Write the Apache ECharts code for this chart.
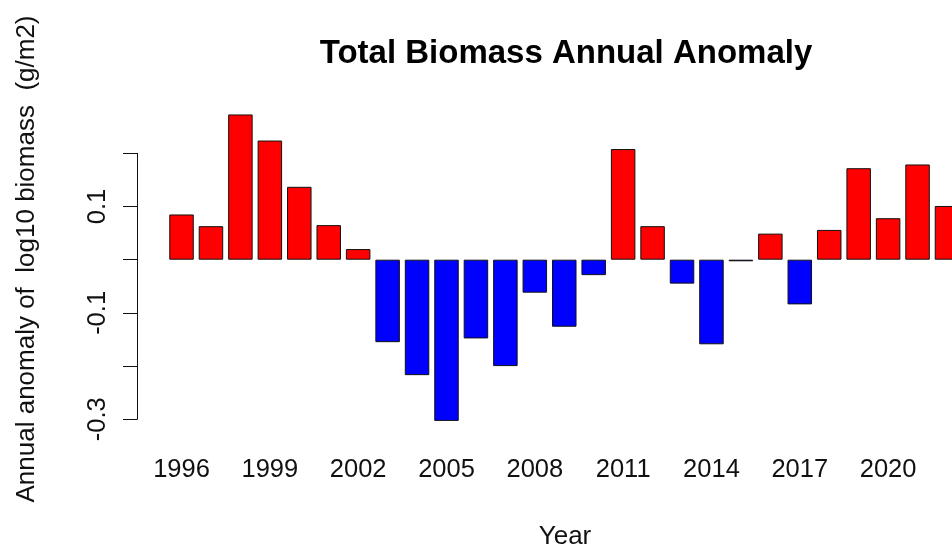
<!DOCTYPE html>
<html>
<head>
<meta charset="utf-8">
<script src="https://cdn.jsdelivr.net/npm/echarts@6/dist/echarts.min.js"></script>
<style>
html,body{margin:0;padding:0;background:#fff;}
#chart{width:952px;height:554px;}
</style>
</head>
<body>
<div id="chart"></div>
<script>
var years = [1996,1997,1998,1999,2000,2001,2002,2003,2004,2005,2006,2007,2008,2009,2010,2011,2012,2013,2014,2015,2016,2017,2018,2019,2020,2021,2022];
var anomaly = [0.085,0.063,0.273,0.224,0.137,0.065,0.020,-0.155,-0.217,-0.303,-0.148,-0.200,-0.062,-0.126,-0.029,0.208,0.063,-0.045,-0.159,-0.003,0.049,-0.084,0.056,0.172,0.078,0.179,0.101];
var xTickLabels = [1996,1999,2002,2005,2008,2011,2014,2017,2020];
var yTickLabels = ['-0.3','-0.1','0.1'];

var FONT = '"Liberation Sans", Arial, sans-serif';
var chart = echarts.init(document.getElementById('chart'), null, {renderer:'canvas'});
chart.setOption({
  backgroundColor: '#ffffff',
  animation: false,
  title: {
    text: 'Total Biomass Annual Anomaly',
    left: 561, top: 32, textAlign: 'center',
    textStyle: {fontFamily: FONT, fontWeight: 'bold', fontSize: 33, color: '#000'}
  },
  grid: {left: 166.8, right: 0, top: 153.3, height: 266, containLabel: false},
  xAxis: {
    type: 'value', min: 1995.5, max: 2022.17,
    axisLine: {show: false, onZero: false},
    axisTick: {show: false},
    axisLabel: {customValues: xTickLabels, showMinLabel: true, showMaxLabel: true, hideOverlap: false,
      margin: 38, fontSize: 25.5, fontFamily: FONT, color: '#111',
      formatter: function (v) { return String(Math.round(v)); }},
    splitLine: {show: false}
  },
  yAxis: {
    type: 'value', min: -0.3, max: 0.2, interval: 0.1,
    offset: 29.8,
    axisLine: {show: true, lineStyle: {color: '#111', width: 1}},
    axisTick: {show: true, length: 14, lineStyle: {color: '#111', width: 1}},
    axisLabel: {
      rotate: 90, margin: 26, fontSize: 25.5, fontFamily: FONT, color: '#111',
      formatter: function (v) {
        var s = (Math.round(v * 10) / 10).toFixed(1);
        return yTickLabels.indexOf(s) >= 0 ? s : '';
      }
    },
    splitLine: {show: false}
  },
  graphic: [
    {type: 'text', x: 27, y: 259, rotation: Math.PI / 2,
     style: {text: 'Annual anomaly of  log10 biomass  (g/m2)', fontSize: 26, fontFamily: FONT, fill: '#111', align: 'center', verticalAlign: 'middle'}},
    {type: 'text', x: 565, y: 537,
     style: {text: 'Year', fontSize: 26, fontFamily: FONT, fill: '#111', align: 'center', verticalAlign: 'middle'}}
  ],
  series: [{
    type: 'bar', data: years.map(function (y, i) { return [y, anomaly[i]]; }),
    barWidth: 24.5, clip: false,
    itemStyle: {
      borderColor: '#111', borderWidth: 1,
      color: function (p) { return p.value[1] >= 0 ? '#ff0000' : '#0000ff'; }
    }
  }]
});
</script>
</body>
</html>
